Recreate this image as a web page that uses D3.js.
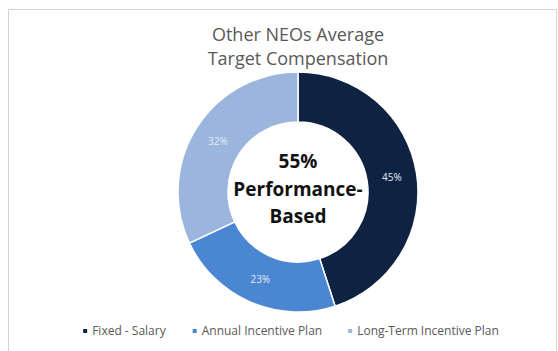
<!DOCTYPE html>
<html>
<head>
<meta charset="utf-8">
<script src="https://cdn.jsdelivr.net/npm/d3@7"></script>
<style>
  html, body { margin: 0; padding: 0; background: #fff; }
  svg { display: block; }
</style>
</head>
<body>
<section></section>
<script>
// Chart data
const categories = ["Fixed - Salary", "Annual Incentive Plan", "Long-Term Incentive Plan"];
const values = [45, 23, 32];
const titleLines = ["Other NEOs Average", "Target Compensation"];
const centerLines = ["55%", "Performance-", "Based"];

const WIDTH = 558;
const HEIGHT = 351;
const CX = 298;
const CY = 192;
const OUTER = 120;
const INNER = 70;
const FONT = "'Open Sans', 'Liberation Sans', sans-serif";

const color = d3.scaleOrdinal()
    .domain(categories)
    .range(["#0e2342", "#4b86d2", "#9bb5dd"]);

const svg = d3.select("section")
    .append("svg")
    .attr("width", WIDTH)
    .attr("height", HEIGHT);

// outer frame of the chart area
svg.append("rect")
    .attr("x", 8.5)
    .attr("y", 9.5)
    .attr("width", 548)
    .attr("height", 360)
    .attr("fill", "#fff")
    .attr("stroke", "#d4d4d4");

// Title
svg.append("g")
    .selectAll("text")
    .data(titleLines)
    .enter()
    .append("text")
    .attr("x", CX)
    .attr("y", (d, i) => 41 + i * 24)
    .attr("text-anchor", "middle")
    .attr("font-family", FONT)
    .attr("font-size", 18)
    .attr("fill", "#595959")
    .text(d => d);

const data = categories.map((c, i) => ({name: c, value: values[i]}));

const pie = d3.pie()
    .sort(null)
    .value(d => d.value);

const arc = d3.arc()
    .innerRadius(INNER)
    .outerRadius(OUTER);

const labelArc = d3.arc()
    .innerRadius((INNER + OUTER) / 2)
    .outerRadius((INNER + OUTER) / 2);

const donut = svg.append("g")
    .attr("transform", "translate(" + CX + "," + CY + ")");

donut.selectAll("path")
    .data(pie(data))
    .enter()
    .append("path")
    .attr("d", arc)
    .attr("fill", d => color(d.data.name))
    .attr("stroke", "#fff")
    .attr("stroke-width", 1.5);

donut.selectAll("text.pct")
    .data(pie(data))
    .enter()
    .append("text")
    .attr("class", "pct")
    .attr("transform", d => "translate(" + labelArc.centroid(d) + ")")
    .attr("dy", "0.35em")
    .attr("text-anchor", "middle")
    .attr("font-family", FONT)
    .attr("font-size", 10)
    .attr("fill", "#e4ebf5")
    .text(d => d.data.value + "%");

// Center text
svg.append("g")
    .selectAll("text")
    .data(centerLines)
    .enter()
    .append("text")
    .attr("x", CX)
    .attr("y", (d, i) => 168 + i * 27.5)
    .attr("text-anchor", "middle")
    .attr("font-family", FONT)
    .attr("font-weight", "bold")
    .attr("font-size", 19)
    .attr("fill", "#111")
    .text(d => d);

// Legend
const legend = svg.append("g");
const items = legend.selectAll("g")
    .data(categories)
    .enter()
    .append("g");

items.append("rect")
    .attr("width", 4)
    .attr("height", 4)
    .attr("y", -4)
    .attr("fill", d => color(d));

items.append("text")
    .attr("x", 9)
    .attr("y", 0)
    .attr("dy", "0.2em")
    .attr("font-family", FONT)
    .attr("font-size", 12)
    .attr("fill", "#595959")
    .text(d => d);

const GAP = 26;
const widths = [];
items.each(function () { widths.push(this.getBBox().width); });
const total = d3.sum(widths) + GAP * (widths.length - 1);
let xPos = 291 - total / 2;
items.attr("transform", (d, i) => {
    const t = "translate(" + xPos + ",333)";
    xPos += widths[i] + GAP;
    return t;
});
</script>
</body>
</html>
